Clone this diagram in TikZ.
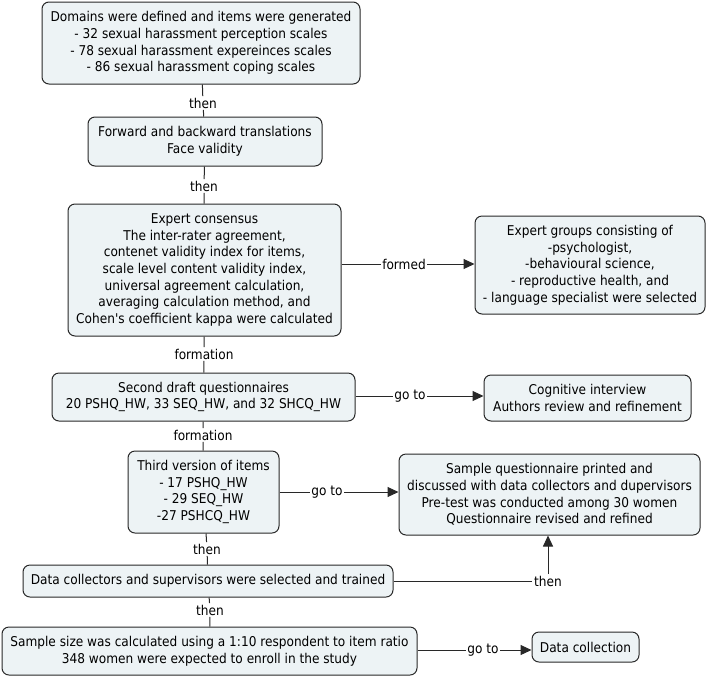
\documentclass[tikz,border=0pt]{standalone}
\usepackage{fontspec}
\newfontfamily\mapfont{DejaVu Sans Condensed}
\usetikzlibrary{arrows.meta}
\definecolor{boxfill}{RGB}{237,243,245}
\definecolor{boxline}{RGB}{40,40,40}
\begin{document}
\begin{tikzpicture}[x=1pt,y=-1pt,
   box/.style={draw=boxline,fill=boxfill,rounded corners=7pt,line width=1pt,
      align=center,inner sep=1pt,font=\mapfont\fontsize{13.5}{16.7}\selectfont},
   lab/.style={inner sep=1.5pt,font=\mapfont\fontsize{13.5}{15}\selectfont},
   link/.style={draw=boxline,line width=1pt},
   goto/.style={link,-{Triangle[length=11pt,width=10pt]}}]
   \useasboundingbox (0,0) rectangle (708,678);
   \node[box,minimum width=318pt,minimum height=82pt] (domains) at (201,43)
   {Domains were defined and items were generated\\- 32 sexual harassment perception scales\\
    - 78 sexual harassment expereinces scales\\- 86 sexual harassment coping scales};
   \node[box,minimum width=234pt,minimum height=49pt] (transl) at (205,141.5)
   {Forward and backward translations\\Face validity};
   \node[box,minimum width=273pt,minimum height=132pt] (consensus) at (204.5,270)
   {Expert consensus\\The inter-rater agreement,\\contenet validity index for items,\\
    scale level content validity index,\\universal agreement calculation,\\
    averaging calculation method, and\\Cohen's coefficient kappa were calculated};
   \node[box,minimum width=230pt,minimum height=98pt] (experts) at (590,265)
   {Expert groups consisting of\\-psychologist,\\-behavioural science,\\
    - reproductive health, and\\- language specialist were selected};
   \node[box,minimum width=303pt,minimum height=48pt] (draft) at (203.5,397)
   {Second draft questionnaires\\20 PSHQ\_HW, 33 SEQ\_HW, and 32 SHCQ\_HW};
   \node[box,minimum width=207pt,minimum height=46pt] (cognitive) at (587.5,398)
   {Cognitive interview\\Authors review and refinement};
   \node[box,minimum width=151pt,minimum height=82pt] (third) at (203.5,492)
   {Third version of items\\- 17 PSHQ\_HW\\- 29 SEQ\_HW\\-27 PSHCQ\_HW};
   \node[box,minimum width=301pt,minimum height=81pt] (pretest) at (549.5,494.5)
   {Sample questionnaire printed and\\discussed with data collectors and dupervisors\\
    Pre-test was conducted among 30 women\\Questionnaire revised and refined};
   \node[box,minimum width=370pt,minimum height=32pt] (collectors) at (208,581)
   {Data collectors and supervisors were selected and trained};
   \node[box,minimum width=415pt,minimum height=48pt] (sample) at (209.5,651)
   {Sample size was calculated using a 1:10 respondent to item ratio\\
    348 women were expected to enroll in the study};
   \node[box,minimum width=107pt,minimum height=30pt] (datacoll) at (585.5,647)
   {Data collection};
   % link labels
   \node[lab] (then1) at (203,103) {then};
   \node[lab] (then2) at (204,186) {then};
   \node[lab] (formed) at (404,264) {formed};
   \node[lab] (form1) at (204,354) {formation};
   \node[lab] (goto1) at (410,396) {go to};
   \node[lab] (form2) at (203,435) {formation};
   \node[lab] (goto2) at (327,492) {go to};
   \node[lab] (then3) at (207,549) {then};
   \node[lab] (then4) at (548,581) {then};
   \node[lab] (then5) at (210,610) {then};
   \node[lab] (goto3) at (483,650) {go to};
   \draw[link] (domains) -- (then1) -- (transl);
   \draw[link] (transl) -- (then2) -- (consensus);
   \draw[link] (consensus.east |- formed) -- (formed.west);
   \draw[goto] (formed.east) -- (experts.west |- formed.east);
   \draw[link] (consensus) -- (form1) -- (draft);
   \draw[link] (draft.east |- goto1) -- (goto1.west);
   \draw[goto] (goto1.east) -- (cognitive.west |- goto1.east);
   \draw[link] (draft) -- (form2) -- (third);
   \draw[link] (third.east |- goto2) -- (goto2.west);
   \draw[goto] (goto2.east) -- (pretest.west |- goto2.east);
   \draw[link] (third) -- (then3) -- (collectors);
   \draw[link] (collectors.east |- then4) -- (then4.west);
   \draw[goto] (then4.north) -- (then4.north |- pretest.south);
   \draw[link] (collectors) -- (then5) -- (sample);
   \draw[link] (sample.east |- goto3) -- (goto3.west);
   \draw[goto] (goto3.east) -- (datacoll.west |- goto3.east);
\end{tikzpicture}
\end{document}
